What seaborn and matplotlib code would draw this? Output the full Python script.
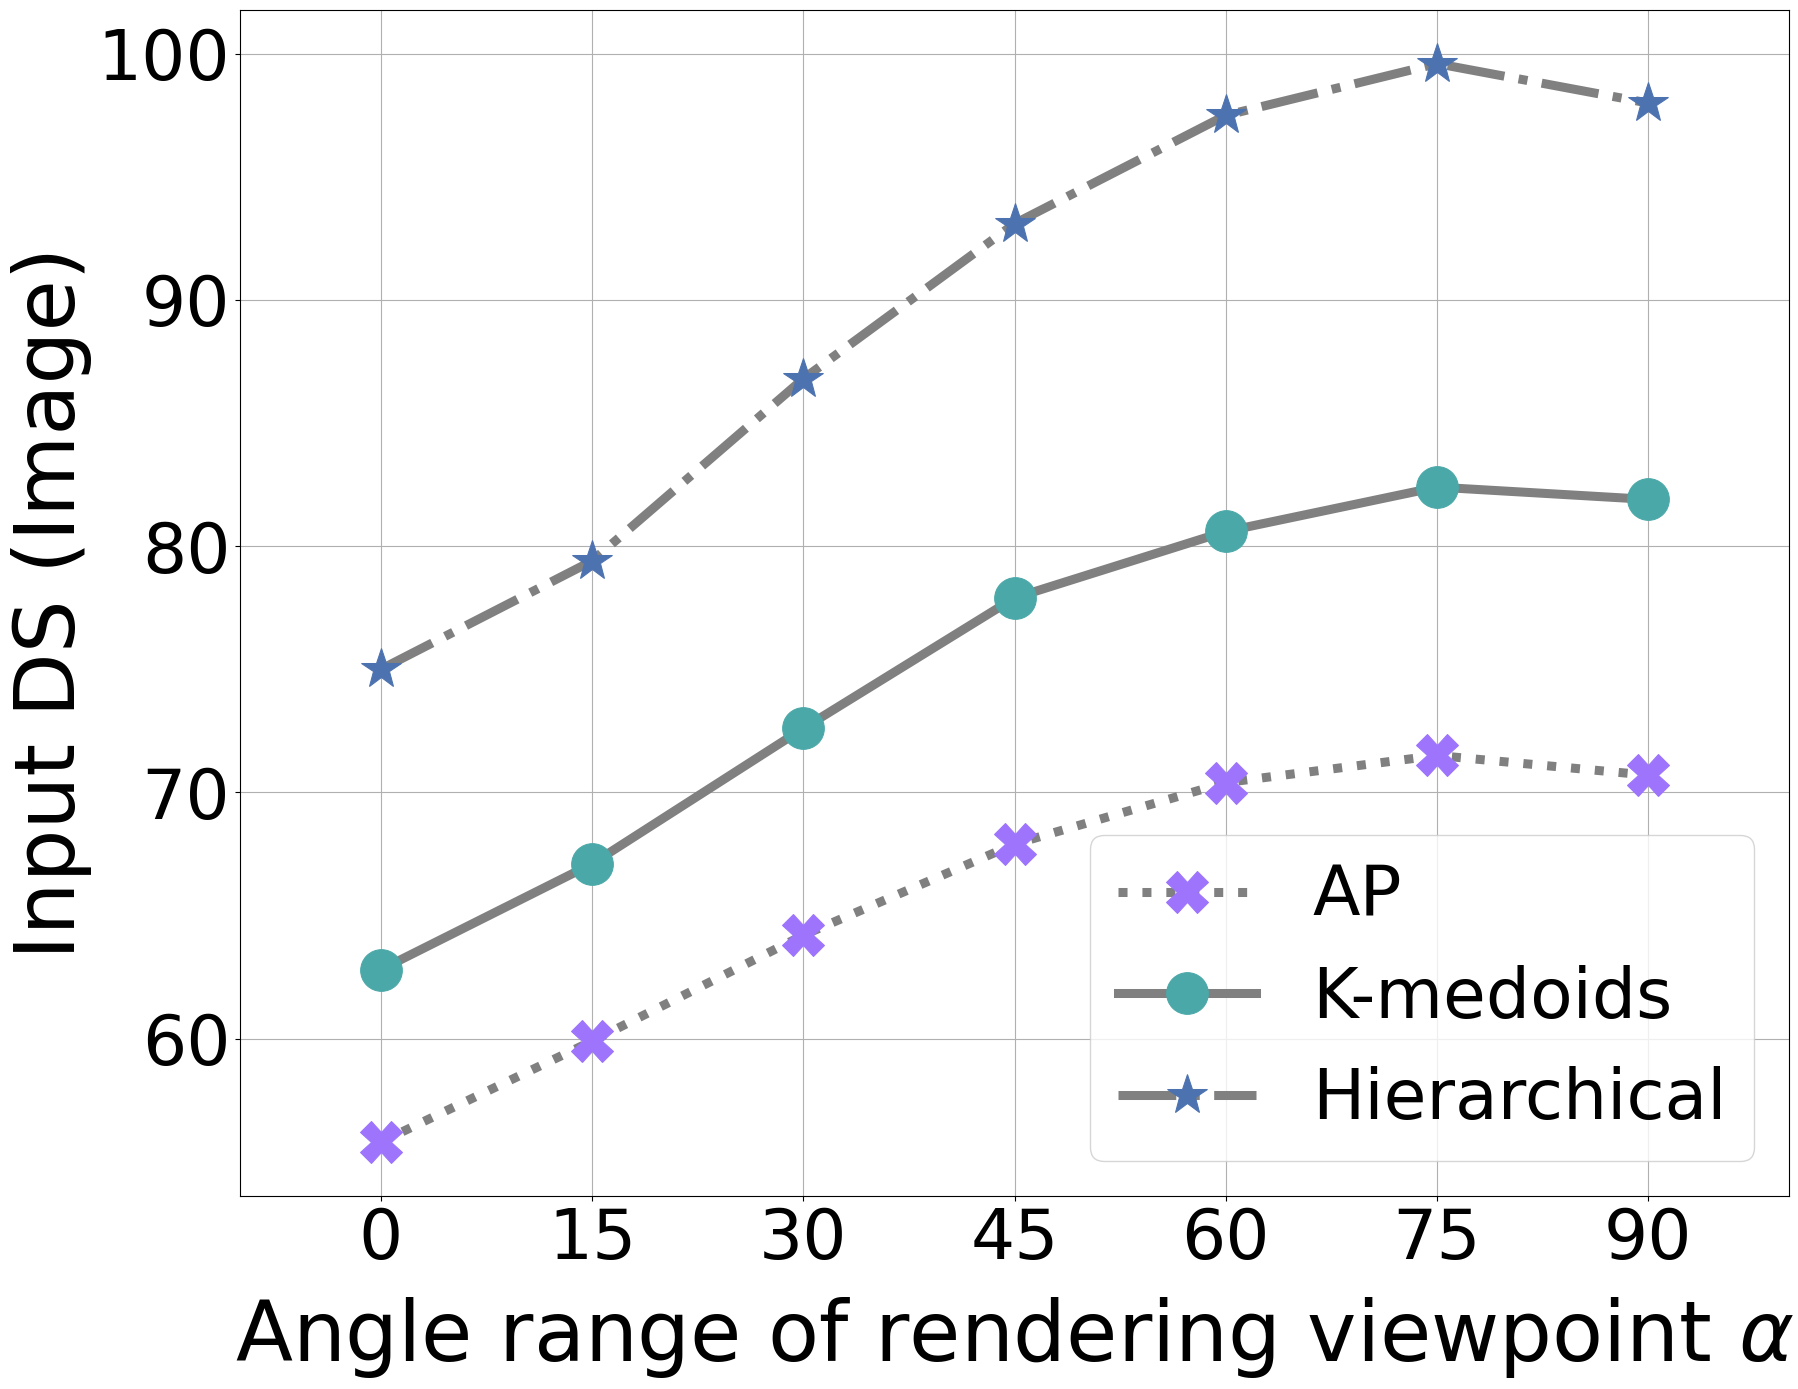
import matplotlib
matplotlib.use("Agg")
import matplotlib.pyplot as plt
import seaborn as sns
import pandas as pd

# values
angles = [0, 15, 30, 45, 60, 75, 90]
ap = [55.8, 59.9, 64.2, 67.9, 70.4, 71.5, 70.7]
kmedoids = [62.8, 67.1, 72.6, 77.9, 80.6, 82.4, 81.9]
hierarchical = [75.0, 79.4, 86.8, 93.1, 97.5, 99.6, 98.0]

series_names = ["AP", "K-medoids", "Hierarchical"]
series_vals = [ap, kmedoids, hierarchical]
markers = ["X", "o", "*"]
linestyles = [":", "-", "-."]
marker_colors = ["#9d74fb", "#4ba8a8", "#4c72b0"]

LINE_COLOR = "gray"
LW = 6.5
MS = 30
FS_TICK = 50
FS_LABEL = 60

fig, ax = plt.subplots(figsize=(17.98, 13.89), dpi=100)

for name, vals, m, ls, c in zip(series_names, series_vals, markers, linestyles, marker_colors):
    df = pd.DataFrame({"angle": angles, "score": vals})
    sns.lineplot(data=df, x="angle", y="score", ax=ax, color=LINE_COLOR,
                 linestyle=ls, linewidth=LW, marker=m, markersize=MS,
                 markerfacecolor=c, markeredgecolor=c, label=name)

ax.set_xlim(-10, 100)
ax.set_xticks(angles)
ax.grid(True)
ax.tick_params(labelsize=FS_TICK)
ax.set_xlabel(r"Angle range of rendering viewpoint $\alpha$", fontsize=FS_LABEL, labelpad=16)
ax.set_ylabel("Input DS (Image)", fontsize=FS_LABEL)
ax.legend(loc="lower right", fontsize=FS_TICK)

fig.subplots_adjust(left=0.1335, right=0.995, top=0.993, bottom=0.139)
fig.savefig("out.png", dpi=100)
